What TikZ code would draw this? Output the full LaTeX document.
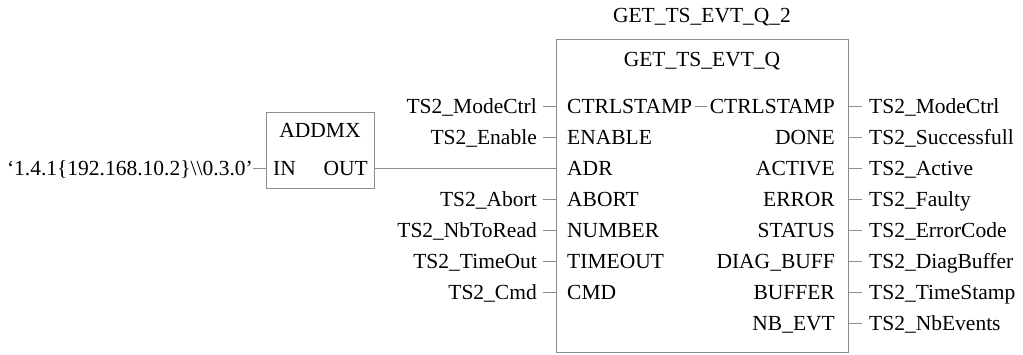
\documentclass[tikz,border=0pt]{standalone}
\usepackage{fontspec}
\setmainfont{Liberation Serif}
\usetikzlibrary{positioning}

\begin{document}
\begin{tikzpicture}
  [
    x=1pt, y=-1pt,
    every node/.style={font=\fontsize{21.5}{25}\selectfont},
    block/.style={rectangle,draw=black!45,line width=1pt,anchor=north west,inner sep=0pt},
    pin/.style={inner sep=0pt,text height=14.2pt,text depth=0pt},
    wire/.style={draw=black!45,line width=1pt}
  ]
  \useasboundingbox (0,0) rectangle (1023,354);

  % function blocks
  \node[block,minimum width=108pt,minimum height=76pt] (addmx) at (266,112) {};
  \node[pin] (addmx type) at (320,130) {ADDMX};
  \node[pin,anchor=west] (addmx in) at (273,168.7) {IN};
  \node[pin,anchor=east] (addmx out) at (368,168.7) {OUT};
  \node[pin,anchor=east] (addr) at (253,168.7) {`1.4.1\{192.168.10.2\}\textbackslash\textbackslash0.3.0'};

  \node[block,minimum width=292pt,minimum height=313pt] (gtsq) at (556,39) {};
  \node[pin] (gtsq name) at (702,15.8) {GET\_TS\_EVT\_Q\_2};
  \node[pin] (gtsq type) at (702,59) {GET\_TS\_EVT\_Q};

  % pins
  \foreach \lbl [count=\k from 0] in {CTRLSTAMP,ENABLE,ADR,ABORT,NUMBER,TIMEOUT,CMD}
    \node[pin,anchor=west] (in \k) at (567,{106.7+31*\k}) {\lbl};
  \foreach \lbl [count=\k from 0] in {CTRLSTAMP,DONE,ACTIVE,ERROR,STATUS,DIAG\_BUFF,BUFFER,NB\_EVT}
    \node[pin,anchor=east] (out \k) at (835,{106.7+31*\k}) {\lbl};

  % variables
  \foreach \k/\lbl in {0/TS2\_ModeCtrl,1/TS2\_Enable,3/TS2\_Abort,4/TS2\_NbToRead,5/TS2\_TimeOut,6/TS2\_Cmd}
  {
    \node[pin,anchor=east] (var \k) at (537,{106.7+31*\k}) {\lbl};
    \draw[wire,shorten <=6pt] (var \k.east) -- (var \k -| gtsq.west);
  }
  \foreach \k/\lbl in {0/TS2\_ModeCtrl,1/TS2\_Successfull,2/TS2\_Active,3/TS2\_Faulty,4/TS2\_ErrorCode,5/TS2\_DiagBuffer,6/TS2\_TimeStamp,7/TS2\_NbEvents}
  {
    \node[pin,anchor=west] (res \k) at (869,{106.7+31*\k}) {\lbl};
    \draw[wire,shorten >=7pt] (res \k -| gtsq.east) -- (res \k.west);
  }

  \draw[wire,shorten <=3pt,shorten >=3pt] (in 0.east) -- (out 0.west);
  \draw[wire] (addr.east) -- (addmx in -| addmx.west);
  \draw[wire] (addmx out -| addmx.east) -- (in 2 -| gtsq.west);
\end{tikzpicture}
\end{document}
